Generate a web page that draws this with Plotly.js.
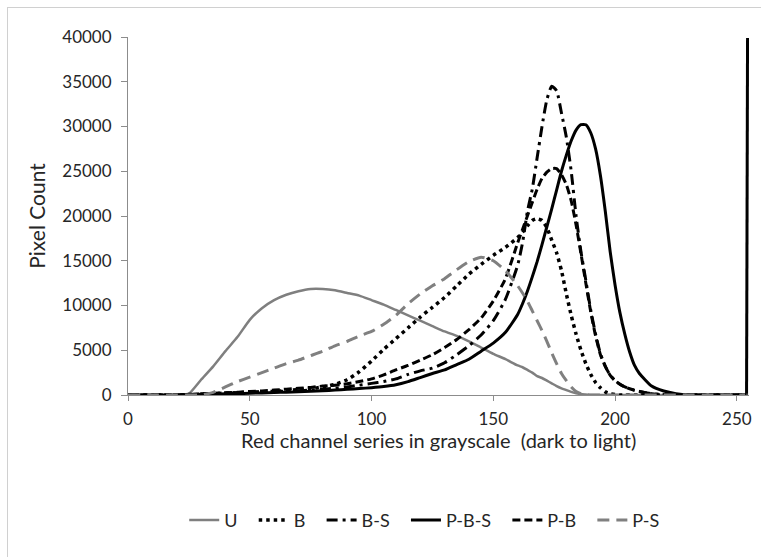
<!DOCTYPE html>
<html>
<head>
<meta charset="utf-8">
<script src="https://cdn.plot.ly/plotly-3.0.1.min.js"></script>
<style>
  html, body { margin: 0; padding: 0; background: #fff; }
  #wrap { position: relative; width: 761px; height: 557px; overflow: hidden; }
  #frame { position: absolute; left: 7px; top: 7px; width: 780px; height: 580px; border: 1px solid #d0d0d0; box-sizing: border-box; pointer-events: none; }
  #chart { position: absolute; left: 0; top: 0; width: 761px; height: 557px; }
</style>
</head>
<body>
<div id="wrap">
  <div id="chart"></div>
  <div id="frame"></div>
</div>
<script>
// Grayscale level (red channel), shared by all series
var levels = [0,10,20,25,30,35,40,45,50,55,60,65,70,75,80,85,90,95,100,105,110,115,120,125,130,135,140,145,150,155,160,162,164,166,168,170,172,174,176,178,180,182,184,186,188,190,192,194,196,198,200,202,204,206,208,210,215,220,225,230,240,254,254.4];

var seriesNames = ["U","B","B-S","P-B-S","P-B","P-S"];

var countU = [0,0,0,150,1700,3200,4900,6500,8400,9700,10600,11200,11600,11850,11850,11700,11400,11100,10600,10100,9500,8900,8300,7700,7100,6600,6000,5300,4600,4000,3300,3100,2800,2500,2100,1900,1600,1300,1000,750,550,350,200,100,50,0,0,0,0,0,0,0,0,0,0,0,0,0,0,0,0,0,0];

var countB = [0,0,0,50,100,150,200,250,300,350,400,500,600,700,900,1200,1700,2600,3800,5100,6300,7500,8700,9800,10900,12200,13500,14600,15600,16500,17600,18200,18900,19500,19700,19500,18700,17300,15900,13900,11300,8900,6800,5000,3500,2300,1400,800,350,150,50,0,0,0,0,0,0,0,0,0,0,0,0];

var countBS = [0,0,0,50,100,150,200,250,300,330,370,420,480,550,650,750,900,1100,1300,1500,1800,2300,2700,3000,3600,4500,5500,6700,8300,10700,14500,17000,20500,23000,26500,30000,33000,34500,34000,31500,28800,25000,20000,16000,12800,9500,6800,4600,3200,2200,1600,1200,900,700,520,400,150,50,0,0,0,0,0];

var countPBS = [0,0,0,50,80,100,130,160,200,230,270,320,370,420,480,550,630,720,820,950,1150,1500,1950,2400,2800,3400,4000,4900,5800,7000,9000,10200,11600,13200,14900,16800,18800,20800,22900,25000,26800,28400,29600,30200,30200,29300,27500,24500,20500,16000,12300,9200,6800,4800,3300,2400,1000,450,150,0,0,0,39900];

var countPB = [0,0,0,50,100,200,250,300,400,450,550,650,750,850,1000,1100,1250,1500,1800,2250,2800,3300,3900,4500,5300,6200,7300,8600,10500,13000,17000,18500,20000,21500,23000,24200,24900,25300,25300,24600,23500,21700,19000,15800,12500,9300,6600,4500,3200,2200,1600,1200,900,700,520,400,150,50,0,0,0,0,0];

var countPS = [0,0,0,0,0,300,900,1500,2000,2500,3000,3500,3900,4400,4900,5500,6000,6600,7100,7900,8900,10200,11300,12200,13000,14000,14900,15400,15000,13900,12200,11400,10500,9400,8300,7200,6000,4700,3500,2400,1600,900,400,150,50,0,0,0,0,0,0,0,0,0,0,0,0,0,0,0,0,0,0];

var yTicks = [0,5000,10000,15000,20000,25000,30000,35000,40000];
var xTicks = [0,50,100,150,200,250];
var xTitle = 'Red channel series in grayscale  (dark to light)';
var yTitle = 'Pixel Count';

var allCounts = [countU, countB, countBS, countPBS, countPB, countPS];
var styles = [
  {color:'#7f7f7f', width:2.5, dash:'solid'},
  {color:'#000000', width:3.5, dash:'3.5px,4px'},
  {color:'#000000', width:3, dash:'11px,5px,3px,5px'},
  {color:'#000000', width:3, dash:'solid'},
  {color:'#000000', width:3, dash:'8px,4px'},
  {color:'#808080', width:3, dash:'12px,7px'}
];
var pad = '\u2002\u2009';
var n = levels.length;

var traces = [];
seriesNames.forEach(function(name, i){
  // smooth body of the histogram (all but the final level)
  traces.push({
    x: levels.slice(0, n - 1), y: allCounts[i].slice(0, n - 1),
    name: name + (i < seriesNames.length - 1 ? pad : ''), legendgroup: name,
    type: 'scatter', mode: 'lines',
    line: {color: styles[i].color, width: styles[i].width, dash: styles[i].dash, shape: 'spline', smoothing: 0.5},
    hoverinfo: 'skip'
  });
});
// final step to the last level (straight segment), same series styles, no extra legend entries
seriesNames.forEach(function(name, i){
  traces.push({
    x: levels.slice(n - 2), y: allCounts[i].slice(n - 2),
    name: name, legendgroup: name, showlegend: false,
    type: 'scatter', mode: 'lines',
    line: {color: styles[i].color, width: styles[i].width, dash: styles[i].dash, shape: 'linear'},
    hoverinfo: 'skip'
  });
});

var font = 'Lato, "Open Sans", sans-serif';
var layout = {
  width: 761, height: 557,
  margin: {l:128, r:12, t:37, b:162},
  paper_bgcolor: '#ffffff', plot_bgcolor: '#ffffff',
  font: {family: font, size: 17, color: '#262626'},
  showlegend: true,
  legend: {orientation:'h', x:0.477, xanchor:'center', y:-0.35, yanchor:'middle',
           font:{family: font, size:18, color:'#262626'}, itemwidth:30, traceorder:'normal'},
  xaxis: {
    range:[0,255], tickvals: xTicks, ticktext: xTicks.map(String),
    showgrid:false, zeroline:false, showline:true, linecolor:'#8c8c8c', linewidth:1,
    ticks:'outside', ticklen:5, tickcolor:'#8c8c8c', ticklabelstandoff:4,
    tickfont:{family: font, size:17, color:'#262626'}
  },
  yaxis: {
    range:[0,40000], tickvals: yTicks, ticktext: yTicks.map(String),
    showgrid:false, zeroline:false, showline:true, linecolor:'#8c8c8c', linewidth:1,
    ticks:'outside', ticklen:6, tickcolor:'#8c8c8c', ticklabelstandoff:6,
    tickfont:{family: font, size:17, color:'#262626'},
    title:{text: yTitle, font:{family: font, size:21, color:'#262626'}, standoff:10}
  },
  annotations: [{
    text: xTitle, xref:'paper', yref:'paper', x:0.5, y:-0.125, xanchor:'center', yanchor:'middle',
    showarrow:false, font:{family: font, size:20, color:'#262626'}
  }]
};

Plotly.newPlot('chart', traces, layout, {displayModeBar:false, staticPlot:true});
</script>
</body>
</html>
